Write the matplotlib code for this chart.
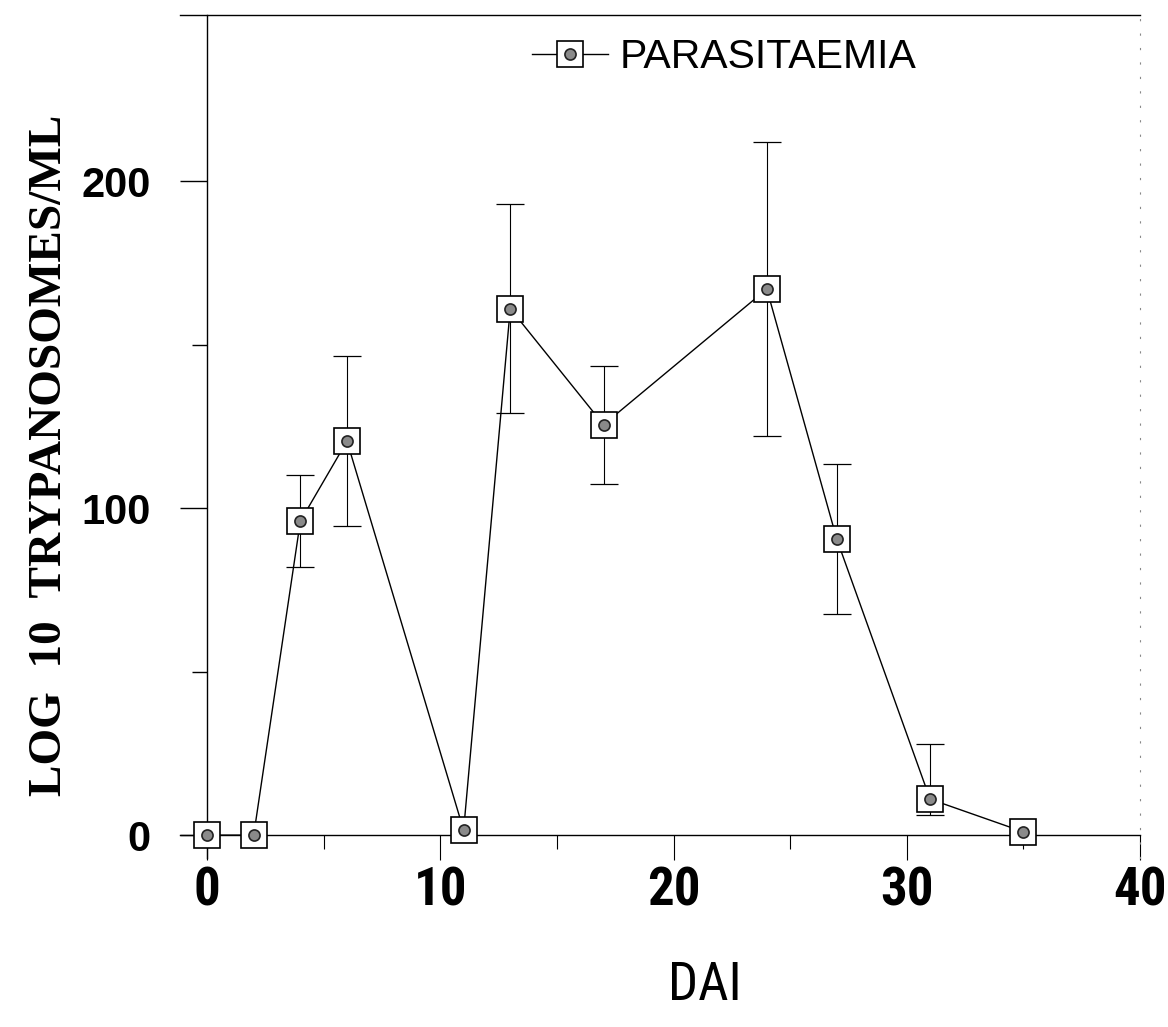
import numpy as np
import matplotlib
matplotlib.use("Agg")
import matplotlib.pyplot as plt
from matplotlib import font_manager
from matplotlib.font_manager import FontProperties

# data
dai = [0, 2, 4, 6, 11, 13, 17, 24, 27, 31, 35]
parasitaemia = [0, 0, 96, 120.5, 1.5, 161, 125.5, 167, 90.5, 11, 1]
err_up = [0, 0, 14, 26, 0, 32, 18, 45, 23, 17, 0]
err_low = [0, 0, 14, 26, 0, 32, 18, 45, 23, 5, 0]
xtick_vals = [0, 10, 20, 30, 40]
ytick_vals = [0, 100, 200]


# look for a narrow / condensed face for the x axis texts
def find_condensed(bold):
    hits = []
    for f in font_manager.fontManager.ttflist:
        narrowish = ('Narrow' in f.name or 'Condensed' in f.name
                     or f.stretch in ('condensed', 'semi-condensed', 'extra-condensed', 75, 87, 62))
        if not narrowish:
            continue
        w = f.weight if isinstance(f.weight, int) else (700 if 'bold' in str(f.weight) else 400)
        if 'Italic' in f.fname or 'Oblique' in f.fname or f.style != 'normal':
            continue
        if bold and w >= 600:
            hits.append(f.fname)
        if not bold and w < 600:
            hits.append(f.fname)
    hits.sort(key=lambda p: ('Liberation' not in p, 'Roboto' not in p, p))
    return hits[0] if hits else None


fb = find_condensed(True)
fr = find_condensed(False)
xtick_font = FontProperties(fname=fb, size=38) if fb else FontProperties(family='Liberation Sans', weight='bold', size=32)
dai_font = FontProperties(fname=fr, size=38) if fr else FontProperties(family='Liberation Sans', size=34)

fig = plt.figure(figsize=(11.68, 10.27), dpi=100)
ax = fig.add_axes([180/1168, 1-858/1027, 960/1168, 843/1027])
ax.set_xlim(-1.16, 40)
ax.set_ylim(-7, 250.8)

# spines
ax.spines['left'].set_position(('data', 0))
ax.spines['bottom'].set_position(('data', 0))
ax.spines['right'].set_linestyle((0, (1, 12)))
ax.spines['right'].set_color('#888888')
for s in ['left', 'bottom', 'top']:
    ax.spines[s].set_linewidth(1.0)

# ticks
ax.set_xticks(xtick_vals)
ax.set_xticks([5, 15, 25, 35], minor=True)
ax.set_yticks(ytick_vals)
ax.set_yticks([50, 150], minor=True)
ax.tick_params(axis='x', which='major', direction='out', length=18, width=0.8, pad=4)
ax.tick_params(axis='x', which='minor', direction='out', length=10, width=0.8)
ax.tick_params(axis='y', which='major', direction='out', length=19.5, width=1.0, pad=21)
ax.tick_params(axis='y', which='minor', direction='out', length=11, width=1.0)
ax.tick_params(right=False, top=False, which='both')
for lab in ax.get_xticklabels():
    lab.set_fontproperties(xtick_font)
for lab in ax.get_yticklabels():
    lab.set_fontfamily('Liberation Sans')
    lab.set_fontweight('bold')
    lab.set_fontsize(30)

# error bars
idx = [i for i in range(len(dai)) if err_up[i] > 0]
ax.errorbar([dai[i] for i in idx], [parasitaemia[i] for i in idx],
            yerr=[[err_low[i] for i in idx], [err_up[i] for i in idx]],
            fmt='none', ecolor='black', elinewidth=0.8, capsize=10, capthick=0.9, zorder=2)

ax.plot(dai, parasitaemia, color='black', linewidth=1.0, zorder=3)
sq, = ax.plot(dai, parasitaemia, linestyle='none', marker='s', markersize=19,
              markerfacecolor='white', markeredgecolor='black', markeredgewidth=1.2, zorder=4)
ci, = ax.plot(dai, parasitaemia, linestyle='none', marker='o', markersize=8,
              markerfacecolor='#8a8a8a', markeredgecolor='#222222', markeredgewidth=1.2, zorder=5)
ln, = ax.plot([], [], color='black', linewidth=1.0)

fig.legend([(ln, sq, ci)], ['PARASITAEMIA'], loc='center left',
           bbox_to_anchor=(532/1168, 1-57/1027), frameon=False, borderpad=0,
           borderaxespad=0, handlelength=1.85, handletextpad=0.3,
           prop={'family': 'Liberation Sans', 'size': 29.5})

fig.text(50/1168, 1-455/1027, 'LOG  10  TRYPANOSOMES/ML', rotation=90,
         ha='center', va='center', fontsize=34, fontweight='bold', family='Liberation Serif')
fig.text(705/1168, 1-985/1027, 'DAI', ha='center', va='center', fontproperties=dai_font)

fig.savefig('out.png', dpi=100)
